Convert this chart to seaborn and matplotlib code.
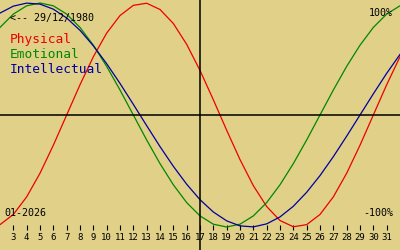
import matplotlib
matplotlib.use("Agg")
import matplotlib.pyplot as plt
import seaborn as sns
import pandas as pd

days = list(range(1, 33))
physical = [-0.998, -0.979, -0.888, -0.731, -0.520, -0.270, 0.000, 0.270, 0.520, 0.731,
            0.888, 0.979, 0.998, 0.942, 0.817, 0.631, 0.398, 0.136, -0.136, -0.398,
            -0.631, -0.817, -0.942, -0.998, -0.979, -0.888, -0.731, -0.520, -0.270, 0.000,
            0.270, 0.520]
emotional = [0.623, 0.782, 0.901, 0.975, 1.000, 0.975, 0.901, 0.782, 0.623, 0.434,
             0.223, 0.000, -0.223, -0.434, -0.623, -0.782, -0.901, -0.975, -1.000, -0.975,
             -0.901, -0.782, -0.623, -0.434, -0.223, 0.000, 0.223, 0.434, 0.623, 0.782,
             0.901, 0.975]
intellectual = [0.815, 0.910, 0.972, 0.999, 0.990, 0.945, 0.866, 0.756, 0.618, 0.458,
                0.282, 0.095, -0.095, -0.282, -0.458, -0.618, -0.756, -0.866, -0.945, -0.990,
                -0.999, -0.972, -0.910, -0.815, -0.690, -0.541, -0.372, -0.189, 0.000, 0.189,
                0.372, 0.541]
tick_days = list(range(3, 32))
series_names = ["Physical", "Emotional", "Intellectual"]
series_colors = ["#ee0000", "#008800", "#0000a0"]
birth_label = "<-- 29/12/1980"
month_label = "01-2026"
today = 17

BG = "#e0d088"
W, H = 400, 250

fig = plt.figure(figsize=(W / 100, H / 100), dpi=100, facecolor=BG)
ax = fig.add_axes([0, 0, 1, 1])
ax.set_facecolor(BG)

def py(v_pix):
    return (115 - v_pix) / 112.0

for name, vals, col in zip(series_names, [physical, emotional, intellectual], series_colors):
    df = pd.DataFrame({"day": days, "value": vals})
    sns.lineplot(data=df, x="day", y="value", ax=ax, color=col, linewidth=0.9)

ax.axhline(0, color="black", linewidth=1.1)
ax.axvline(today, color="black", linewidth=1.1)

ax.set_xlim(2, 32)
ax.set_ylim(py(250), py(0))

for s in ["top", "right", "left"]:
    ax.spines[s].set_visible(False)
ax.spines["bottom"].set_position(("data", py(225)))
ax.spines["bottom"].set_visible(False)
ax.set_yticks([])
ax.set_xticks(tick_days)
ax.set_xticklabels([str(d) for d in tick_days], fontfamily="DejaVu Sans Mono", fontsize=6.5)
ax.tick_params(axis="x", direction="out", length=3.6, width=0.8, pad=2, colors="black")
ax.set_xlabel("")
ax.set_ylabel("")

mono = "DejaVu Sans Mono"
def ftext(x, y, s, **kw):
    fig.text(x / W, 1 - y / H, s, fontfamily=mono, va="baseline", **kw)

ftext(10, 21, birth_label, fontsize=7.2, color="black")
for i, (name, col) in enumerate(zip(series_names, series_colors)):
    ftext(10, 43 + 15 * i, name, fontsize=9.3, color=col)
ftext(393, 16, "100%", fontsize=7.2, color="black", ha="right")
ftext(393, 216, "-100%", fontsize=7.2, color="black", ha="right")
ftext(4, 216, month_label, fontsize=7.2, color="black")

fig.savefig("out.png", dpi=100, facecolor=BG)
